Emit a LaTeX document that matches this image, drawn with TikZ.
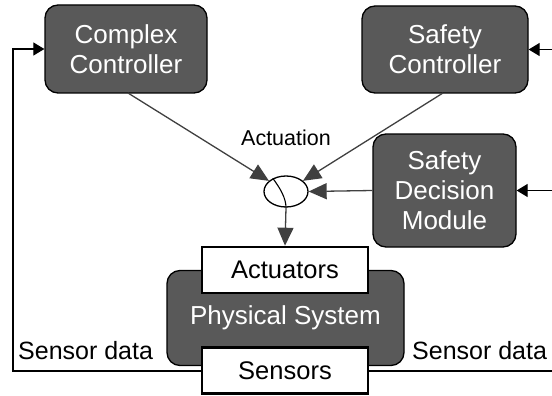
\documentclass[tikz,border=0pt]{standalone}
\usepackage{fontspec}
\setmainfont{Liberation Sans}
\usetikzlibrary{arrows.meta,calc,shapes.geometric}
\definecolor{boxfill}{HTML}{595959}
\definecolor{linegray}{HTML}{404040}
\begin{document}
\begin{tikzpicture}[x=1pt,y=-1pt,
  darkbox/.style={draw=black,line width=1.3pt,fill=boxfill,rounded corners=13pt,
    text=white,align=center,inner sep=0pt,
    font=\fontsize{26}{30}\selectfont},
  iobox/.style={draw=black,line width=2.6pt,fill=white,inner sep=0pt,
    minimum width=166pt,minimum height=46pt,font=\fontsize{25.5}{30}\selectfont},
  act/.style={draw=linegray,line width=1.3pt,-{Triangle[length=18pt,width=16pt]}},
  fb/.style={draw=black,line width=1.2pt,-{Triangle[length=11pt,width=13pt]}},
  lbl/.style={font=\fontsize{25}{30}\selectfont,inner sep=0pt}]
\useasboundingbox (0,0) rectangle (552,396);

% controllers and decision module
\node[darkbox,minimum width=162pt,minimum height=88pt] (cc) at (126,49) {Complex\\Controller};
\node[darkbox,minimum width=166pt,minimum height=87pt] (sc) at (445,49.5) {Safety\\Controller};
\node[darkbox,minimum width=143pt,minimum height=113pt] (sdm) at (444.5,190.5) {Safety\\Decision\\Module};

% plant with its actuators and sensors
\node[darkbox,minimum width=237pt,minimum height=95pt] (ps) at (285.5,318) {Physical System};
\node[iobox] (ac) at (285,270) {Actuators};
\node[iobox] (sn) at (285,370.5) {Sensors};

% switch selecting the actuation command
\node[draw=black,line width=1.3pt,ellipse,minimum width=44pt,minimum height=31pt,inner sep=0pt] (sw) at (286,191.5) {};
\draw[black,line width=1.1pt] (sw.135) .. controls (280,188) and (286,198) .. (sw.south);
\node[lbl,font=\fontsize{21.5}{26}\selectfont] (actlbl) at (286,138) {Actuation};

\draw[act] (128,93) -- (sw);
\draw[act] (443,93) -- (sw);
\draw[act] (sdm.west) -- (sw.east);
\draw[act] (sw.south) -- (ac.north);

% sensor feedback
\coordinate (rlow) at (552,371);
\coordinate (rsc) at (552,49.5);
\coordinate (rsdm) at (552,190.5);
\draw[black,line width=1.2pt] ($(sn.east)+(0,0.5)$) -- (rlow);
\draw[fb] (rsc) -- (sc.east);
\draw[fb] (rsdm) -- (sdm.east);
\draw[fb] ($(sn.west)+(0,0.5)$) -| (13,49) -- (cc.west);

\node[lbl,anchor=west] (sdl) at (18,351) {Sensor data};
\node[lbl,anchor=west] (sdr) at (412,351) {Sensor data};
\end{tikzpicture}
\end{document}
